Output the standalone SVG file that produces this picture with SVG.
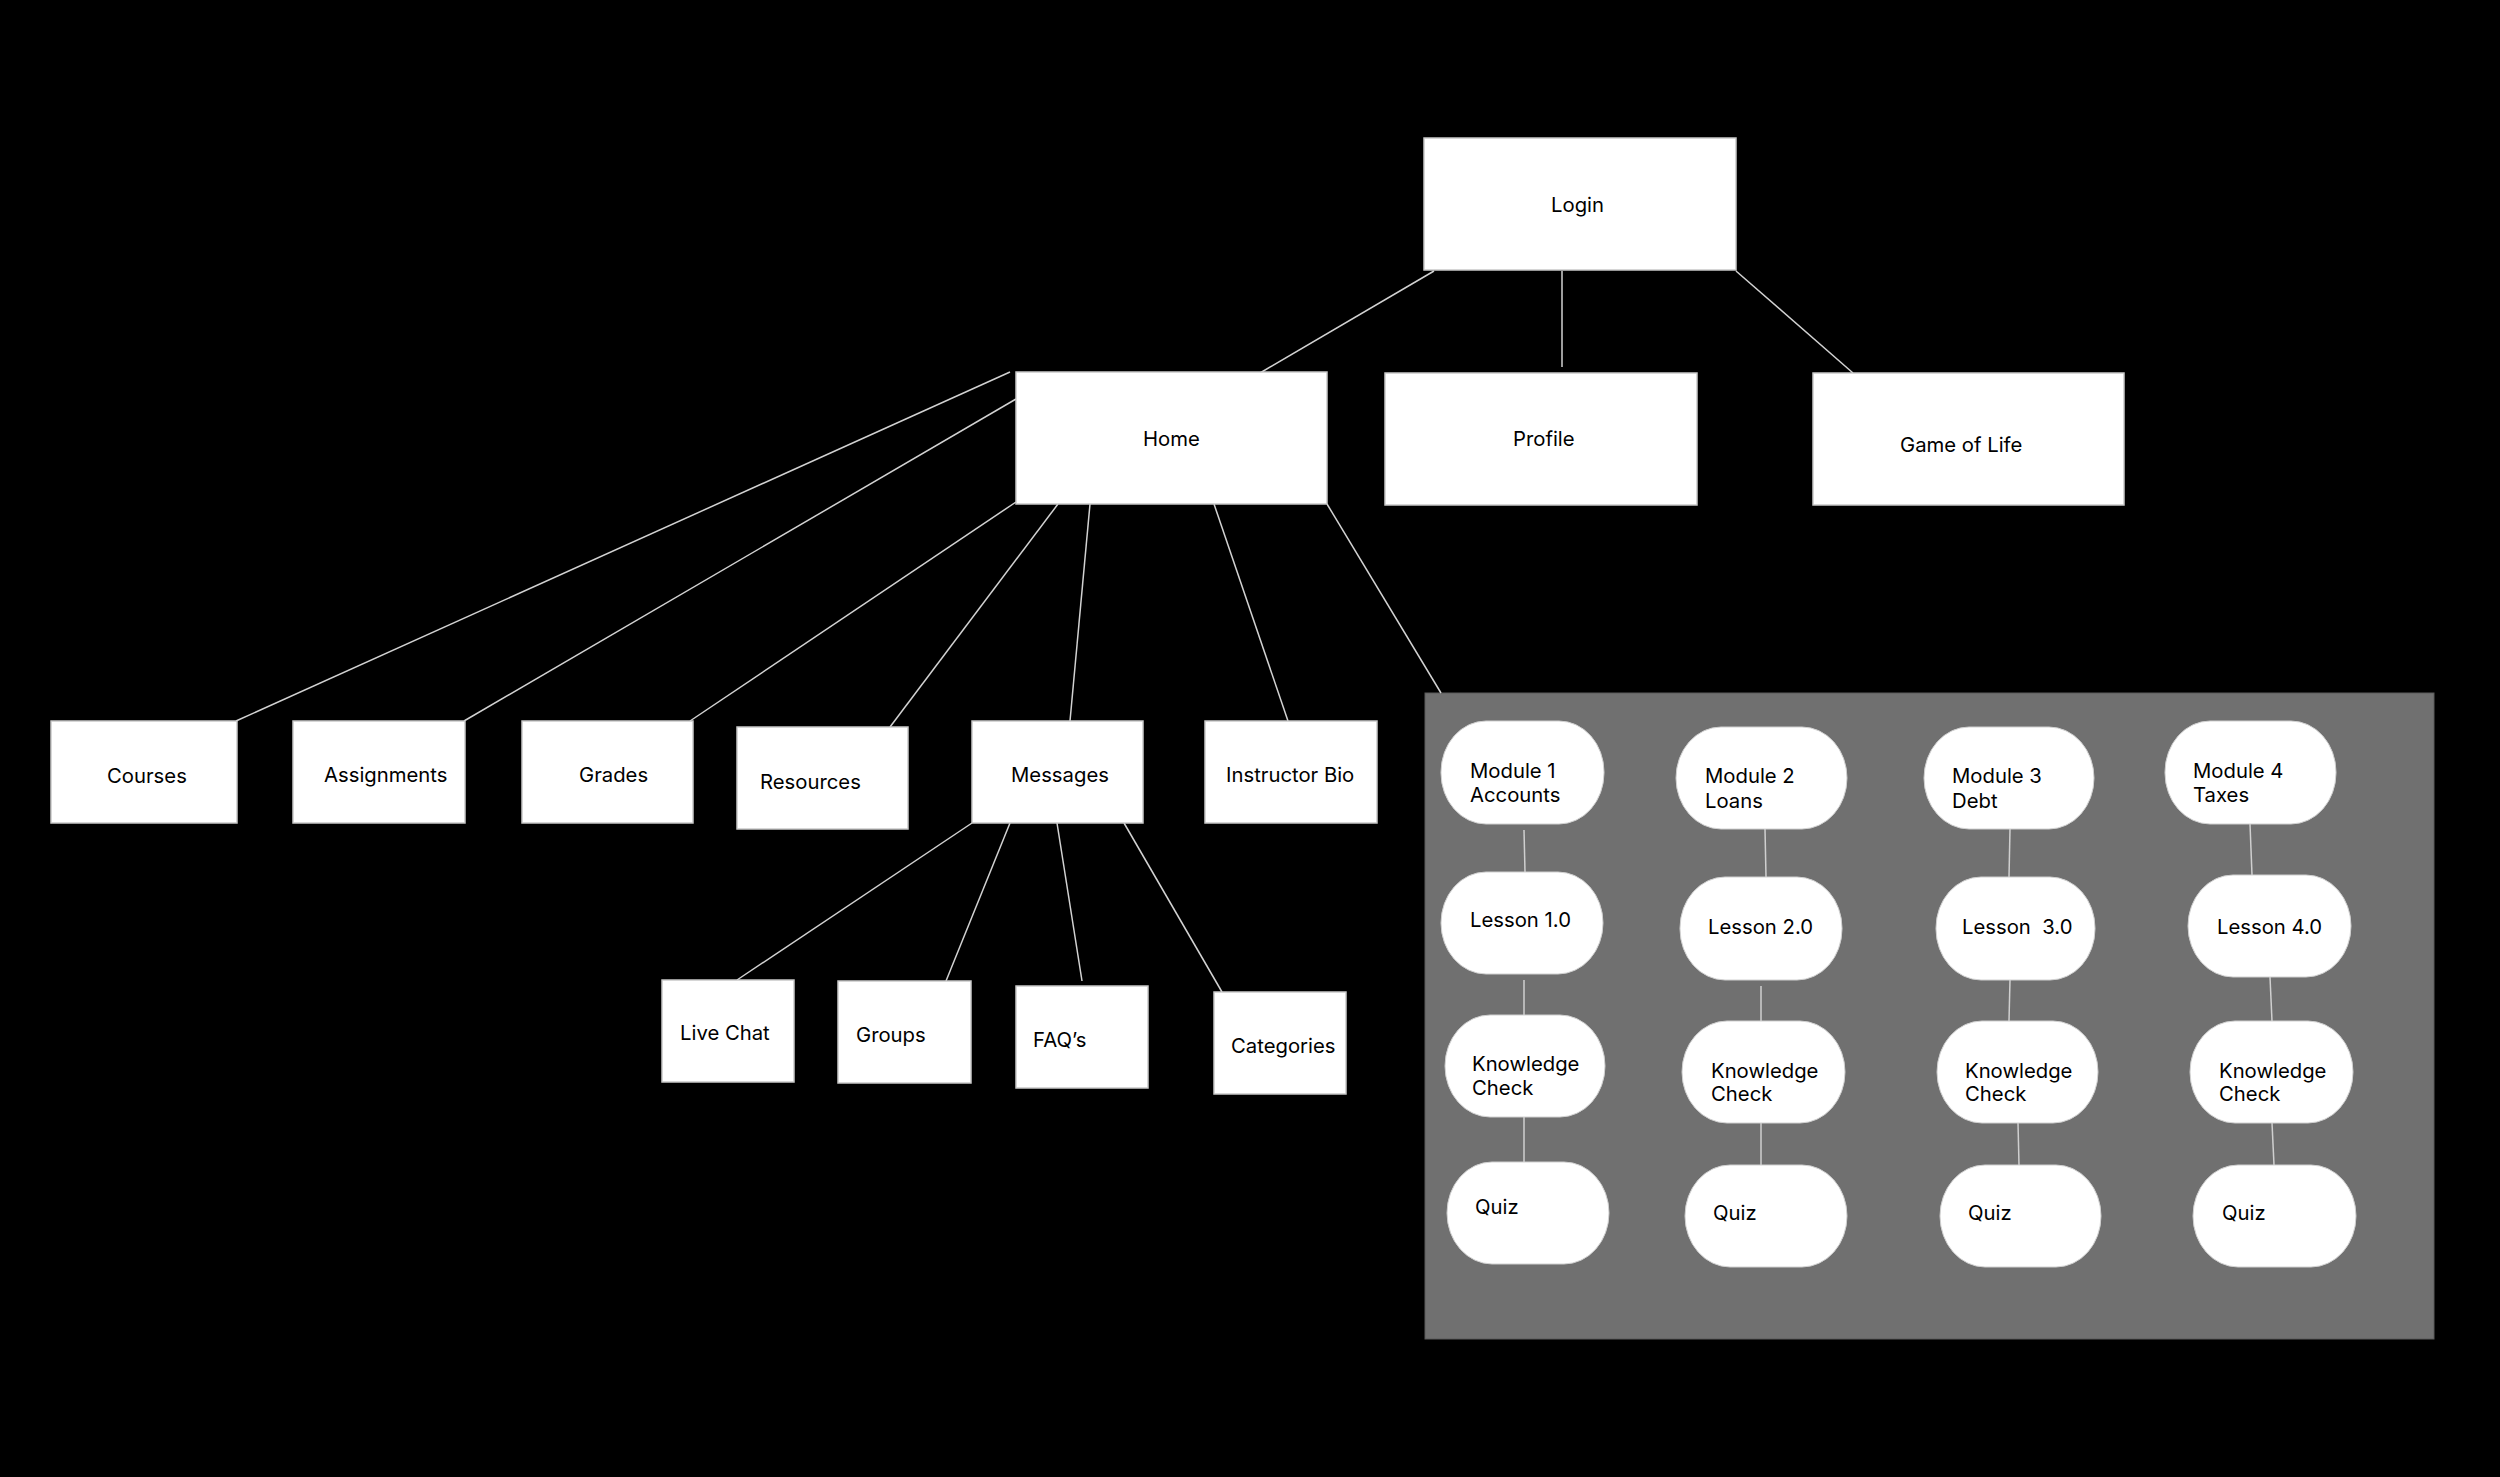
<svg xmlns="http://www.w3.org/2000/svg" width="2500" height="1477" viewBox="0 0 2500 1477">
<style>
.bg{fill:#000}
.box{fill:#fff;stroke:#c9c9c9;stroke-width:1.5}
.pill{fill:#fff;stroke:#d0d0d0;stroke-width:1}
.panel{fill:#707070;stroke:#5a5a5a;stroke-width:1}
.ln{stroke:#d2d2d2;stroke-width:1.5;fill:none}
.lp{stroke:#cfcfcf;stroke-width:1.5;fill:none}
text{font-family:Inter,"Noto Sans","Liberation Sans",sans-serif;font-size:20.3px;fill:#000;white-space:pre}
</style>
<rect class="bg" x="0" y="0" width="2500" height="1477"/>
<rect class="panel" id="modules-panel" x="1425" y="693" width="1009" height="646"/>
<g id="connectors">
<line class="ln" x1="1434" y1="271" x2="1260" y2="373"/>
<line class="ln" x1="1562" y1="271" x2="1562" y2="367"/>
<line class="ln" x1="1736" y1="271" x2="1853" y2="373"/>
<line class="ln" x1="1010" y1="372" x2="236" y2="721"/>
<line class="ln" x1="1016" y1="399" x2="464" y2="721"/>
<line class="ln" x1="1016" y1="502" x2="690" y2="721"/>
<line class="ln" x1="1058" y1="504" x2="890" y2="727"/>
<line class="ln" x1="1090" y1="504" x2="1070" y2="721"/>
<line class="ln" x1="1214" y1="504" x2="1288" y2="721"/>
<line class="ln" x1="1327" y1="504" x2="1441" y2="693"/>
<line class="ln" x1="972" y1="823" x2="737" y2="980"/>
<line class="ln" x1="1010" y1="823" x2="946" y2="981"/>
<line class="ln" x1="1057" y1="823" x2="1082" y2="981"/>
<line class="ln" x1="1124" y1="823" x2="1222" y2="992"/>
<line class="lp" x1="1524" y1="830" x2="1525" y2="872"/>
<line class="lp" x1="1524" y1="980" x2="1524" y2="1015"/>
<line class="lp" x1="1524" y1="1117" x2="1524" y2="1162"/>
<line class="lp" x1="1765" y1="829" x2="1766" y2="877"/>
<line class="lp" x1="1761" y1="986" x2="1761" y2="1021"/>
<line class="lp" x1="1761" y1="1123" x2="1761" y2="1165"/>
<line class="lp" x1="2010" y1="829" x2="2009" y2="877"/>
<line class="lp" x1="2010" y1="980" x2="2009" y2="1021"/>
<line class="lp" x1="2018" y1="1123" x2="2019" y2="1165"/>
<line class="lp" x1="2250" y1="824" x2="2252" y2="875"/>
<line class="lp" x1="2270" y1="977" x2="2272" y2="1021"/>
<line class="lp" x1="2272" y1="1123" x2="2274" y2="1165"/>
</g>
<g id="login"><rect class="box" x="1424" y="138" width="312" height="132"/><text x="1551" y="212">Login</text></g>
<g id="home"><rect class="box" x="1016" y="372" width="311" height="132"/><text x="1143" y="446">Home</text></g>
<g id="profile"><rect class="box" x="1385" y="373" width="312" height="132"/><text x="1513" y="446">Profile</text></g>
<g id="game-of-life"><rect class="box" x="1813" y="373" width="311" height="132"/><text x="1900" y="452">Game of Life</text></g>
<g id="courses"><rect class="box" x="51" y="721" width="186" height="102"/><text x="107" y="783">Courses</text></g>
<g id="assignments"><rect class="box" x="293" y="721" width="172" height="102"/><text x="324" y="782">Assignments</text></g>
<g id="grades"><rect class="box" x="522" y="721" width="171" height="102"/><text x="579" y="782">Grades</text></g>
<g id="resources"><rect class="box" x="737" y="727" width="171" height="102"/><text x="760" y="789">Resources</text></g>
<g id="messages"><rect class="box" x="972" y="721" width="171" height="102"/><text x="1011" y="782">Messages</text></g>
<g id="instructor-bio"><rect class="box" x="1205" y="721" width="172" height="102"/><text x="1226" y="782">Instructor Bio</text></g>
<g id="live-chat"><rect class="box" x="662" y="980" width="132" height="102"/><text x="680" y="1040">Live Chat</text></g>
<g id="groups"><rect class="box" x="838" y="981" width="133" height="102"/><text x="856" y="1042">Groups</text></g>
<g id="faqs"><rect class="box" x="1016" y="986" width="132" height="102"/><text x="1033" y="1047">FAQ’s</text></g>
<g id="categories"><rect class="box" x="1214" y="992" width="132" height="102"/><text x="1231" y="1053">Categories</text></g>
<g id="module-1"><rect class="pill" x="1441" y="721" width="163" height="103" rx="45" ry="51"/><text x="1470" y="778">Module 1</text><text x="1470" y="802">Accounts</text></g>
<g id="lesson-1"><rect class="pill" x="1441" y="872" width="162" height="102" rx="45" ry="51"/><text x="1470" y="927">Lesson 1.0</text></g>
<g id="kc-1"><rect class="pill" x="1445" y="1015" width="160" height="102" rx="45" ry="51"/><text x="1472" y="1071">Knowledge</text><text x="1472" y="1095">Check</text></g>
<g id="quiz-1"><rect class="pill" x="1447" y="1162" width="162" height="102" rx="45" ry="51"/><text x="1475" y="1214">Quiz</text></g>
<g id="module-2"><rect class="pill" x="1676" y="727" width="171" height="102" rx="45" ry="51"/><text x="1705" y="783">Module 2</text><text x="1705" y="808">Loans</text></g>
<g id="lesson-2"><rect class="pill" x="1680" y="877" width="162" height="103" rx="45" ry="51"/><text x="1708" y="934">Lesson 2.0</text></g>
<g id="kc-2"><rect class="pill" x="1682" y="1021" width="163" height="102" rx="45" ry="51"/><text x="1711" y="1078">Knowledge</text><text x="1711" y="1101">Check</text></g>
<g id="quiz-2"><rect class="pill" x="1685" y="1165" width="162" height="102" rx="45" ry="51"/><text x="1713" y="1220">Quiz</text></g>
<g id="module-3"><rect class="pill" x="1924" y="727" width="170" height="102" rx="45" ry="51"/><text x="1952" y="783">Module 3</text><text x="1952" y="808">Debt</text></g>
<g id="lesson-3"><rect class="pill" x="1936" y="877" width="159" height="103" rx="45" ry="51"/><text x="1962" y="934">Lesson  3.0</text></g>
<g id="kc-3"><rect class="pill" x="1937" y="1021" width="161" height="102" rx="45" ry="51"/><text x="1965" y="1078">Knowledge</text><text x="1965" y="1101">Check</text></g>
<g id="quiz-3"><rect class="pill" x="1940" y="1165" width="161" height="102" rx="45" ry="51"/><text x="1968" y="1220">Quiz</text></g>
<g id="module-4"><rect class="pill" x="2165" y="721" width="171" height="103" rx="45" ry="51"/><text x="2193" y="778">Module 4</text><text x="2193" y="802">Taxes</text></g>
<g id="lesson-4"><rect class="pill" x="2188" y="875" width="163" height="102" rx="45" ry="51"/><text x="2217" y="934">Lesson 4.0</text></g>
<g id="kc-4"><rect class="pill" x="2190" y="1021" width="163" height="102" rx="45" ry="51"/><text x="2219" y="1078">Knowledge</text><text x="2219" y="1101">Check</text></g>
<g id="quiz-4"><rect class="pill" x="2193" y="1165" width="163" height="102" rx="45" ry="51"/><text x="2222" y="1220">Quiz</text></g>
</svg>
